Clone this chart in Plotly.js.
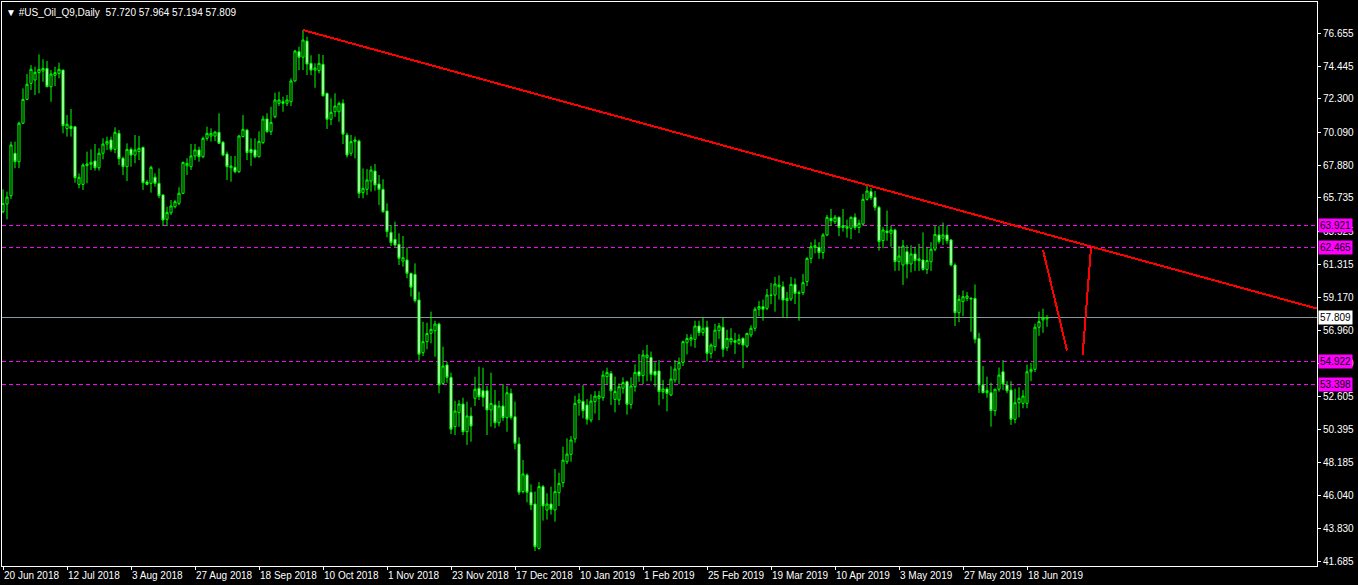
<!DOCTYPE html>
<html>
<head>
<meta charset="utf-8">
<script src="https://cdn.plot.ly/plotly-3.0.1.min.js"></script>
<style>
html,body{margin:0;padding:0;background:#000;overflow:hidden;}
#chart{width:1358px;height:585px;}
.shapelayer path{shape-rendering:crispEdges;}
</style>
</head>
<body>
<div id="chart"></div>
<script>
// ---- Data (daily bars, #US_Oil_Q9) ----
const symbolName = '#US_Oil_Q9,Daily';

const opens = [
 64.82,65.33,65.88,68.69,68.13,70.68,72.26,73.32,73.54,74.03,
 74.14,74.31,73.10,73.85,73.98,74.20,70.32,70.48,70.45,66.63,
 66.63,67.87,67.96,68.18,67.73,68.69,69.30,69.57,68.95,70.01,
 68.36,67.80,68.95,68.57,68.80,69.08,66.79,66.70,67.10,66.70,
 65.93,64.32,64.75,65.15,65.37,66.04,67.85,67.80,68.51,68.91,
 68.46,69.68,69.83,69.83,70.08,69.42,68.64,67.73,67.76,67.47,
 69.79,70.23,68.95,68.91,68.46,69.39,70.96,70.12,71.11,72.00,
 72.10,72.00,72.10,73.48,75.42,75.05,76.12,74.65,74.20,74.16,
 74.58,72.66,70.94,71.44,71.44,72.00,69.90,68.69,69.46,69.50,
 66.08,66.30,66.85,67.51,66.65,66.30,64.87,63.45,62.99,62.66,
 61.55,61.62,60.74,60.67,58.97,55.48,56.21,56.76,56.94,57.38,
 53.45,54.67,53.85,50.58,51.51,52.08,50.25,51.29,52.46,53.13,
 52.96,52.96,51.69,52.02,50.84,51.95,51.18,52.79,51.24,49.44,
 46.28,47.38,46.24,45.46,42.52,46.61,45.06,45.46,45.06,46.21,
 46.87,48.26,48.75,49.77,52.17,52.26,52.02,51.02,52.24,52.46,
 52.50,53.89,54.11,52.39,52.35,53.13,53.56,52.06,53.23,54.22,
 53.96,55.15,55.17,54.25,54.27,52.90,53.08,52.68,53.67,54.40,
 54.84,56.14,56.32,56.37,57.25,56.81,57.17,55.44,55.88,56.94,
 57.17,55.81,56.21,56.28,56.10,56.43,55.92,56.66,57.10,58.36,
 58.53,58.42,59.30,59.30,59.85,59.85,58.93,59.04,60.01,59.41,
 59.46,60.19,61.73,62.46,62.46,62.11,63.28,64.38,64.16,64.45,
 63.77,63.72,63.72,64.45,63.77,64.00,65.64,66.15,65.77,65.11,
 62.90,63.54,63.39,63.61,61.51,61.29,62.17,61.36,62.02,61.58,
 61.62,61.00,61.51,62.33,63.28,63.06,63.28,62.95,61.29,58.13,
 58.86,59.08,59.10,59.08,56.43,53.34,52.83,52.83,51.64,53.06,
 54.22,53.34,53.01,51.07,52.17,52.13,52.13,54.22,54.38,57.17,
 57.65,57.720
];
const highs = [
 66.30,66.15,69.46,69.46,70.78,72.99,73.94,74.53,74.42,75.24,
 74.91,74.80,74.20,74.42,74.69,74.22,71.22,71.62,70.50,67.36,
 68.03,68.80,68.95,69.30,69.02,69.68,69.79,69.79,70.41,70.23,
 68.46,69.35,69.08,69.90,69.84,69.13,66.92,67.87,67.36,67.69,
 65.97,65.15,65.59,65.59,66.44,68.13,68.36,69.30,69.30,69.13,
 69.79,70.45,70.34,70.14,71.34,69.50,68.80,68.51,68.51,69.90,
 71.22,70.28,69.68,69.68,70.14,71.18,71.34,71.77,72.70,72.77,
 72.44,72.55,73.65,75.53,75.75,76.85,76.41,75.18,74.65,75.26,
 75.20,72.70,72.33,72.66,72.10,72.26,70.05,69.90,69.79,69.60,
 67.69,67.64,67.85,67.98,67.25,66.97,65.37,63.94,64.16,63.39,
 63.21,62.46,60.76,61.40,59.52,57.53,57.47,58.20,57.60,57.47,
 55.88,54.89,54.16,52.30,52.34,52.50,52.24,51.86,53.89,54.56,
 54.49,53.28,54.16,53.02,52.30,53.40,53.28,53.10,52.24,49.88,
 48.37,47.49,46.76,46.28,46.91,46.72,46.17,46.61,47.78,47.53,
 49.26,49.81,49.96,52.63,52.79,53.34,52.41,52.72,52.94,52.94,
 54.29,54.49,54.27,53.90,53.45,53.85,53.63,53.85,54.71,55.39,
 55.66,56.00,55.56,54.85,55.00,53.68,53.20,54.58,55.00,55.16,
 56.28,56.71,56.70,57.60,57.60,57.80,57.60,56.10,57.40,57.45,
 57.80,57.00,57.10,56.80,56.70,56.50,56.80,57.30,58.50,58.90,
 59.00,59.70,60.10,60.50,60.60,60.20,59.50,60.50,60.40,59.60,
 60.70,61.80,62.80,62.99,62.80,63.40,64.60,65.00,64.60,64.50,
 65.00,64.30,64.50,64.71,64.30,66.00,66.59,66.40,66.20,65.20,
 63.80,64.90,63.90,63.70,62.55,62.95,62.60,62.60,62.50,62.70,
 63.45,62.50,62.80,63.90,63.90,64.10,63.90,63.00,61.40,59.30,
 59.60,59.50,59.10,60.00,56.80,54.60,53.90,53.50,53.10,54.50,
 55.00,53.60,53.60,53.10,53.20,53.00,54.70,54.80,57.40,58.20,
 58.40,57.964
];
const lows = [
 64.71,64.32,65.66,67.70,67.70,70.63,72.22,72.88,72.55,72.66,
 73.43,73.06,72.10,73.14,73.65,70.01,69.79,69.79,66.74,66.37,
 66.26,66.70,67.58,67.54,67.54,68.29,68.91,68.80,68.69,67.91,
 67.25,66.85,67.80,68.03,68.24,66.26,66.57,66.08,66.48,65.71,
 63.87,63.87,64.60,65.04,65.26,65.99,67.25,67.58,68.24,68.13,
 68.36,69.52,69.46,69.50,69.30,68.50,66.92,66.81,67.36,67.40,
 69.75,68.24,67.85,68.36,68.42,69.32,70.05,69.90,71.00,71.82,
 71.44,71.82,71.82,73.43,74.20,74.20,73.87,73.87,73.03,73.98,
 72.44,70.30,70.56,71.11,70.78,69.30,68.40,68.51,68.36,65.71,
 65.71,65.93,66.15,66.21,65.26,64.75,63.13,62.55,62.50,61.29,
 61.18,60.41,59.20,58.80,54.95,55.26,55.71,56.10,55.22,52.79,
 53.34,53.50,50.10,50.03,50.57,50.03,49.37,49.59,51.95,52.35,
 51.90,50.03,50.58,50.48,50.60,50.97,50.25,51.05,49.08,46.06,
 46.17,45.57,45.06,42.35,42.44,44.36,44.43,44.76,44.29,45.33,
 46.57,48.11,48.26,49.52,51.31,51.14,50.72,50.86,51.45,51.02,
 52.30,53.40,52.02,51.53,52.02,52.79,51.38,51.77,52.90,53.56,
 53.39,53.60,53.60,53.23,52.00,52.41,51.59,52.60,53.50,53.39,
 54.60,55.37,55.90,55.80,56.60,56.60,54.90,55.10,55.60,56.40,
 55.20,55.60,56.00,55.40,56.00,54.45,55.80,56.50,56.90,57.90,
 57.60,58.30,58.70,58.20,59.00,57.80,57.80,58.90,58.70,57.60,
 59.30,59.90,61.40,62.06,61.70,61.70,63.20,63.90,64.00,63.20,
 63.50,63.10,63.00,63.61,63.40,63.90,65.55,65.60,64.90,62.24,
 62.40,62.90,62.50,60.90,60.91,59.97,60.40,60.80,60.90,60.90,
 60.91,60.70,60.90,62.20,62.70,62.60,62.70,61.20,57.25,57.50,
 57.90,58.90,56.87,56.10,52.82,52.80,52.50,50.58,51.30,52.90,
 53.00,52.80,50.70,50.80,51.20,51.80,51.80,53.60,54.20,56.60,
 56.80,57.194
];
const closes = [
 65.37,65.79,69.24,68.13,70.68,72.26,73.26,74.25,74.05,74.25,
 74.31,73.10,73.94,74.03,74.25,70.52,70.61,70.32,67.07,67.10,
 67.91,67.98,68.09,67.73,68.69,69.30,69.48,68.95,70.08,68.33,
 67.80,68.95,68.57,68.91,69.02,66.74,66.63,67.76,66.70,65.88,
 64.27,64.78,65.20,65.48,66.04,68.09,68.02,68.51,68.91,68.46,
 69.68,70.01,70.01,70.10,69.35,68.57,67.80,67.85,67.47,69.83,
 70.28,68.73,68.73,68.46,69.48,70.96,70.12,70.74,72.22,72.22,
 72.00,72.22,73.48,75.46,75.05,76.19,74.60,74.20,74.34,74.65,
 72.50,70.94,71.40,71.82,72.00,69.95,68.57,69.46,69.57,66.04,
 66.37,66.92,67.58,66.59,66.30,64.82,63.50,62.77,62.61,61.73,
 61.77,60.74,59.82,58.93,55.38,56.21,56.76,57.03,57.38,53.34,
 54.60,53.85,50.41,51.62,52.08,50.25,51.29,50.63,53.06,52.57,
 52.53,51.69,52.13,50.84,51.95,51.18,52.83,51.20,49.48,46.24,
 47.45,46.24,45.40,42.63,46.61,45.33,45.46,45.11,46.28,46.83,
 48.37,48.77,49.70,52.13,52.35,51.64,51.07,52.28,52.61,52.63,
 54.00,54.18,52.96,52.92,53.23,53.50,52.06,53.28,54.18,53.96,
 55.33,55.33,54.05,54.00,52.90,53.08,52.79,53.74,54.40,54.84,
 56.21,56.43,56.48,57.25,56.81,57.10,55.44,55.99,56.98,57.25,
 55.71,56.43,56.43,56.17,56.37,55.99,56.76,57.10,58.36,58.53,
 58.36,59.30,59.28,60.03,59.96,58.97,59.08,60.01,59.41,59.46,
 60.12,61.73,62.50,62.57,62.11,63.28,64.45,64.22,64.45,63.77,
 63.88,63.85,64.45,63.77,64.05,65.64,66.19,65.75,65.11,62.84,
 63.61,63.43,63.61,61.51,61.89,62.55,61.36,62.02,61.58,61.70,
 61.00,61.58,62.33,63.32,62.84,63.28,62.90,61.29,58.13,59.02,
 59.19,59.24,59.05,56.37,53.34,52.83,52.96,51.64,53.06,54.00,
 53.41,52.96,51.07,52.17,52.46,52.61,54.22,54.38,57.17,57.54,
 57.80,57.809
];

const dateTickBars = [0,16,32,48,64,80,96,112,128,144,160,176,192,208,224,240,256];
const dateTickLabels = ['20 Jun 2018','12 Jul 2018','3 Aug 2018','27 Aug 2018','18 Sep 2018',
 '10 Oct 2018','1 Nov 2018','23 Nov 2018','17 Dec 2018','10 Jan 2019','1 Feb 2019',
 '25 Feb 2019','19 Mar 2019','10 Apr 2019','3 May 2019','27 May 2019','18 Jun 2019'];
const priceTicks = [76.655,74.445,72.300,70.090,67.880,65.735,63.525,61.315,59.170,
 56.960,54.750,52.605,50.395,48.185,46.040,43.830,41.685];

const levelPrices = [63.921, 62.465, 54.922, 53.398];   // dashed magenta levels
const bidPrice = 57.809;                                  // current bid line
const trendAnchorBars = [75, 216];                        // trend line through these bar highs
// hand-drawn red strokes: [bar0, price0, bar1, price1]
const strokeA = [260, 62.28, 266, 55.63];
const strokeB = [269.9, 55.31, 272, 62.44];

// ---- Build chart ----
const barIndex = opens.map((_, i) => i);
const xMin = -0.25, xMax = 328.5;
const yMin = 41.355, yMax = 78.708;

const candle = {
  type: 'candlestick',
  x: barIndex, open: opens, high: highs, low: lows, close: closes,
  increasing: {line: {color: '#00ff00', width: 1}, fillcolor: '#000000'},
  decreasing: {line: {color: '#00ff00', width: 1}, fillcolor: '#ffffff'},
  whiskerwidth: 0,
  hoverinfo: 'skip',
  showlegend: false
};

const shapes = [];
levelPrices.forEach(p => shapes.push({
  type: 'line', xref: 'paper', yref: 'y', x0: 0, x1: 1, y0: p, y1: p,
  line: {color: '#ff00ff', width: 1, dash: '4px,3px'}, layer: 'below'
}));
shapes.push({
  type: 'line', xref: 'paper', yref: 'y', x0: 0, x1: 1, y0: bidPrice, y1: bidPrice,
  line: {color: '#8a96a3', width: 1}, layer: 'below'
});
const a0 = trendAnchorBars[0], a1 = trendAnchorBars[1];
const slope = (highs[a1] - highs[a0]) / (a1 - a0);
shapes.push({
  type: 'line', xref: 'x', yref: 'y',
  x0: a0, y0: highs[a0], x1: xMax, y1: highs[a0] + slope * (xMax - a0),
  line: {color: '#ff0000', width: 2}
});
[strokeA, strokeB].forEach(s => shapes.push({
  type: 'line', xref: 'x', yref: 'y', x0: s[0], y0: s[1], x1: s[2], y1: s[3],
  line: {color: '#ff0000', width: 2}
}));

const fontFam = '"Liberation Sans", Arial, sans-serif';
const annotations = [];
levelPrices.forEach(p => annotations.push({
  xref: 'paper', yref: 'y', x: 1, y: p, xanchor: 'left', yanchor: 'middle', xshift: 1,
  text: p.toFixed(3), showarrow: false, bgcolor: '#ff00ff', borderpad: 1,
  font: {family: fontFam, size: 10, color: '#000000'}
}));
annotations.push({
  xref: 'paper', yref: 'y', x: 1, y: bidPrice, xanchor: 'left', yanchor: 'middle', xshift: 1,
  text: bidPrice.toFixed(3), showarrow: false, bgcolor: '#ffffff', borderpad: 1,
  font: {family: fontFam, size: 10, color: '#000000'}
});
const last = opens.length - 1;
annotations.push({
  xref: 'paper', yref: 'paper', x: 0, y: 1, xanchor: 'left', yanchor: 'top',
  xshift: 2, yshift: -3, showarrow: false, align: 'left',
  text: '▼ ' + symbolName + '  ' +
    [opens[last], highs[last], lows[last], closes[last]].map(v => v.toFixed(3)).join(' '),
  font: {family: fontFam, size: 10, color: '#ffffff'}
});

const layout = {
  width: 1358, height: 585,
  paper_bgcolor: '#000000', plot_bgcolor: '#000000',
  margin: {l: 2, r: 41, t: 2, b: 19, pad: 0},
  showlegend: false,
  boxgap: 0.25,
  xaxis: {
    type: 'linear', range: [xMin, xMax], fixedrange: true,
    rangeslider: {visible: false},
    tickmode: 'array', tickvals: dateTickBars, ticktext: dateTickLabels,
    tickangle: 0, automargin: false,
    ticks: 'outside', ticklen: 3, tickcolor: '#ffffff', tickwidth: 1,
    ticklabelposition: 'outside right',
    showline: true, linecolor: '#ffffff', linewidth: 1, mirror: true,
    showgrid: false, zeroline: false,
    tickfont: {family: fontFam, size: 10, color: '#ffffff'}
  },
  yaxis: {
    side: 'right', range: [yMin, yMax], fixedrange: true, automargin: false,
    tickmode: 'array', tickvals: priceTicks, ticktext: priceTicks.map(v => v.toFixed(3)),
    ticks: 'outside', ticklen: 3, tickcolor: '#ffffff', tickwidth: 1,
    showline: true, linecolor: '#ffffff', linewidth: 1, mirror: true,
    showgrid: false, zeroline: false,
    tickfont: {family: fontFam, size: 10, color: '#ffffff'}
  },
  shapes: shapes,
  annotations: annotations
};

Plotly.newPlot('chart', [candle], layout, {staticPlot: true, displayModeBar: false});
</script>
</body>
</html>
